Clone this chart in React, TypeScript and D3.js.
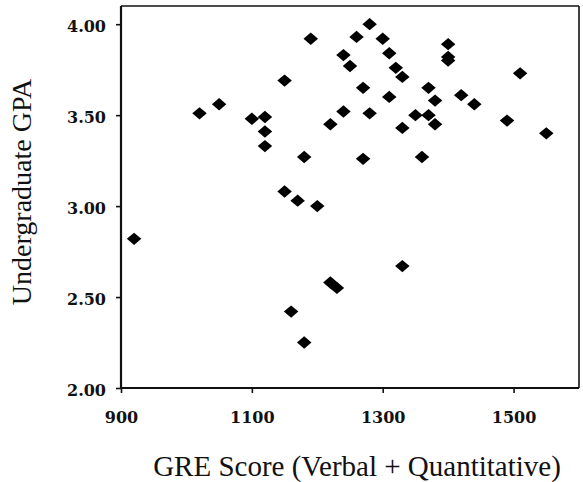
import React, { useEffect, useRef } from 'react';
import * as d3 from 'd3';

// GRE (verbal + quantitative) and undergraduate GPA, one entry per student
const greScores = [
  920, 1020, 1050, 1100, 1120, 1120, 1120, 1150, 1150, 1160, 1170, 1180, 1180, 1190,
  1200, 1220, 1220, 1230, 1240, 1240, 1250, 1260, 1270, 1270, 1280, 1280, 1300, 1310,
  1310, 1320, 1330, 1330, 1330, 1350, 1360, 1370, 1370, 1380, 1380, 1400, 1400, 1400,
  1420, 1440, 1490, 1510, 1550,
];
const gpaValues = [
  2.82, 3.51, 3.56, 3.48, 3.49, 3.41, 3.33, 3.69, 3.08, 2.42, 3.03, 3.27, 2.25, 3.92,
  3.0, 3.45, 2.58, 2.55, 3.83, 3.52, 3.77, 3.93, 3.65, 3.26, 4.0, 3.51, 3.92, 3.84,
  3.6, 3.76, 3.71, 3.43, 2.67, 3.5, 3.27, 3.65, 3.5, 3.58, 3.45, 3.89, 3.82, 3.8,
  3.61, 3.56, 3.47, 3.73, 3.4,
];
const xTicks = [900, 1100, 1300, 1500];
const yTicks = [2.0, 2.5, 3.0, 3.5, 4.0];

const width = 583;
const height = 482;

// flat diamond, a bit wider than tall
const diamond = {
  draw(context: any, size: number) {
    const rx = Math.sqrt(size) * 0.54;
    const ry = Math.sqrt(size) * 0.46;
    context.moveTo(0, -ry);
    context.lineTo(rx, 0);
    context.lineTo(0, ry);
    context.lineTo(-rx, 0);
    context.closePath();
  },
};

const ScatterChart = () => {
  const svgRef = useRef<SVGSVGElement>(null);

  useEffect(() => {
    const svg = d3.select(svgRef.current);
    svg.selectAll('*').remove();

    const margin = { top: 6, right: 4, bottom: 94, left: 121 };
    const innerWidth = width - margin.left - margin.right;
    const innerHeight = height - margin.top - margin.bottom;

    const g = svg.append('g')
      .attr('transform', `translate(${margin.left},${margin.top})`);

    const xScale = d3.scaleLinear().domain([900, 1600]).range([0, innerWidth]);
    const yScale = d3.scaleLinear().domain([2, 4.1]).range([innerHeight, 0]);

    // frame: top and right thinner
    g.append('line')
      .attr('x1', 0).attr('x2', innerWidth).attr('y1', 0).attr('y2', 0)
      .attr('stroke', '#111').attr('stroke-width', 1.6);
    g.append('line')
      .attr('x1', innerWidth).attr('x2', innerWidth).attr('y1', 0).attr('y2', innerHeight)
      .attr('stroke', '#111').attr('stroke-width', 1.6);

    // x axis
    const xAxis = g.append('g')
      .attr('transform', `translate(0,${innerHeight})`)
      .call(d3.axisBottom(xScale).tickValues(xTicks).tickSize(5).tickPadding(19)
        .tickFormat(d3.format('d')));
    xAxis.select('.domain').attr('stroke', '#111').attr('stroke-width', 2.2)
      .attr('d', `M0,0H${innerWidth}`);
    xAxis.selectAll('.tick line').attr('stroke', '#111').attr('stroke-width', 1.6);
    xAxis.selectAll('text')
      .style('font-family', '"DejaVu Serif", serif')
      .style('font-weight', 'bold')
      .style('font-size', '16px')
      .style('fill', '#111');

    // y axis
    const yAxis = g.append('g')
      .call(d3.axisLeft(yScale).tickValues(yTicks).tickSize(5).tickPadding(10)
        .tickFormat(d3.format('.2f')));
    yAxis.select('.domain').attr('stroke', '#111').attr('stroke-width', 2.2)
      .attr('d', `M0,0V${innerHeight}`);
    yAxis.selectAll('.tick line').attr('stroke', '#111').attr('stroke-width', 1.6);
    yAxis.selectAll('text')
      .style('font-family', '"DejaVu Serif", serif')
      .style('font-weight', 'bold')
      .style('font-size', '16px')
      .style('fill', '#111')
      .attr('dy', '0.45em');

    // points
    const symbol = d3.symbol().type(diamond as any).size(180);
    g.selectAll('.pt')
      .data(greScores.map((gre, i) => ({ gre, gpa: gpaValues[i] })))
      .enter().append('path')
      .attr('class', 'pt')
      .attr('transform', d => `translate(${xScale(d.gre)},${yScale(d.gpa)})`)
      .attr('d', symbol)
      .attr('fill', '#000');

    // axis titles
    svg.append('text')
      .attr('x', margin.left + innerWidth / 2 + 7)
      .attr('y', 476)
      .attr('text-anchor', 'middle')
      .style('font-family', '"Liberation Serif", serif')
      .style('font-size', '29px')
      .style('fill', '#111')
      .text('GRE Score (Verbal + Quantitative)');

    svg.append('text')
      .attr('transform', `translate(31,${192}) rotate(-90)`)
      .attr('text-anchor', 'middle')
      .style('font-family', '"Liberation Serif", serif')
      .style('font-size', '28px')
      .style('fill', '#111')
      .text('Undergraduate GPA');
  }, []);

  return (
    <svg
      ref={svgRef}
      width={width}
      height={height}
      style={{ position: 'absolute', left: 0, top: 0, background: '#fff' }}
    />
  );
};

export default function App() {
  return <ScatterChart />;
}
